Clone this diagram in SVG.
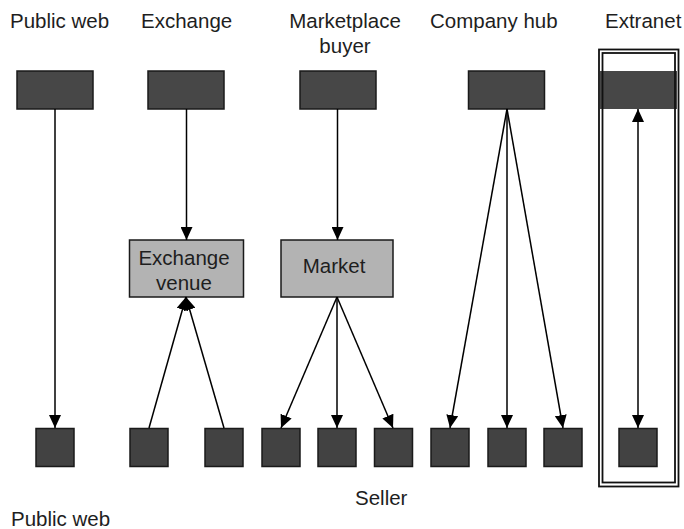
<svg xmlns="http://www.w3.org/2000/svg" width="684" height="529" viewBox="0 0 684 529">
<defs>
<style>
text{font-family:"Liberation Sans",Arial,sans-serif;font-size:20.5px;fill:#1e1e1e}
.top{fill:#474747;stroke:#1a1a1a;stroke-width:1.5}
.sq{fill:#424242;stroke:#1a1a1a;stroke-width:1.5}
.mid{fill:#b3b3b3;stroke:#1a1a1a;stroke-width:1.5}
.frame{fill:none;stroke:#111;stroke-width:1.8}
.c{stroke:#000;stroke-width:1.5;fill:none;marker-end:url(#ah)}
.m{text-anchor:middle}
</style>
<marker id="ah" markerUnits="userSpaceOnUse" markerWidth="14" markerHeight="12" refX="13" refY="6" orient="auto-start-reverse" viewBox="0 0 14 12">
<path d="M0,0 L13,6 L0,12 z" fill="#000"/>
</marker>
</defs>
<g id="labels">
<text x="10" y="28">Public web</text>
<text x="141" y="28">Exchange</text>
<text class="m" x="345" y="28">Marketplace</text>
<text class="m" x="345" y="53">buyer</text>
<text x="430" y="28">Company hub</text>
<text x="605" y="28">Extranet</text>
<text x="355" y="505">Seller</text>
<text x="11" y="526">Public web</text>
</g>
<g id="top-public"><rect class="top" x="17" y="71" width="76" height="38"/></g>
<g id="top-exchange"><rect class="top" x="148" y="71" width="76" height="38"/></g>
<g id="top-marketplace"><rect class="top" x="300" y="71" width="76" height="38"/></g>
<g id="top-company"><rect class="top" x="468.5" y="71" width="76" height="38"/></g>
<g id="top-extranet"><rect x="600" y="71" width="77" height="38" fill="#474747"/></g>
<g id="extranet-frame">
<rect class="frame" x="599" y="49.5" width="79.5" height="437"/>
<rect class="frame" x="602.5" y="53" width="72.5" height="429.5"/>
</g>
<g id="exchange-venue"><rect class="mid" x="129.5" y="240" width="114" height="57"/>
<text class="m" x="184" y="265">Exchange</text><text class="m" x="184" y="290">venue</text></g>
<g id="market"><rect class="mid" x="281" y="240" width="112" height="57"/>
<text class="m" x="334" y="273">Market</text></g>
<g id="seller1"><rect class="sq" x="36" y="428.5" width="38" height="38"/></g>
<g id="seller2"><rect class="sq" x="130" y="428.5" width="38" height="38"/></g>
<g id="seller3"><rect class="sq" x="205" y="428.5" width="38" height="38"/></g>
<g id="seller4"><rect class="sq" x="262" y="428.5" width="38" height="38"/></g>
<g id="seller5"><rect class="sq" x="318" y="428.5" width="38" height="38"/></g>
<g id="seller6"><rect class="sq" x="374.5" y="428.5" width="38" height="38"/></g>
<g id="seller7"><rect class="sq" x="431" y="428.5" width="38" height="38"/></g>
<g id="seller8"><rect class="sq" x="488" y="428.5" width="38" height="38"/></g>
<g id="seller9"><rect class="sq" x="544" y="428.5" width="38" height="38"/></g>
<g id="seller10"><rect class="sq" x="619" y="428.5" width="38" height="38"/></g>
<g id="connectors">
<line class="c" x1="55" y1="109" x2="55" y2="428"/>
<line class="c" x1="186.5" y1="109" x2="186.5" y2="240"/>
<line class="c" x1="149" y1="428" x2="186" y2="297"/>
<line class="c" x1="224" y1="428" x2="186" y2="297"/>
<line class="c" x1="337.5" y1="109" x2="337.5" y2="240"/>
<line class="c" x1="337" y1="297" x2="281" y2="428"/>
<line class="c" x1="337" y1="297" x2="337" y2="428"/>
<line class="c" x1="337" y1="297" x2="393" y2="428"/>
<line class="c" x1="507" y1="109" x2="450" y2="428"/>
<line class="c" x1="507" y1="109" x2="507" y2="428"/>
<line class="c" x1="507" y1="109" x2="563" y2="428"/>
<line class="c" x1="638" y1="109" x2="638" y2="428" style="marker-start:url(#ah)"/>
</g>
</svg>
